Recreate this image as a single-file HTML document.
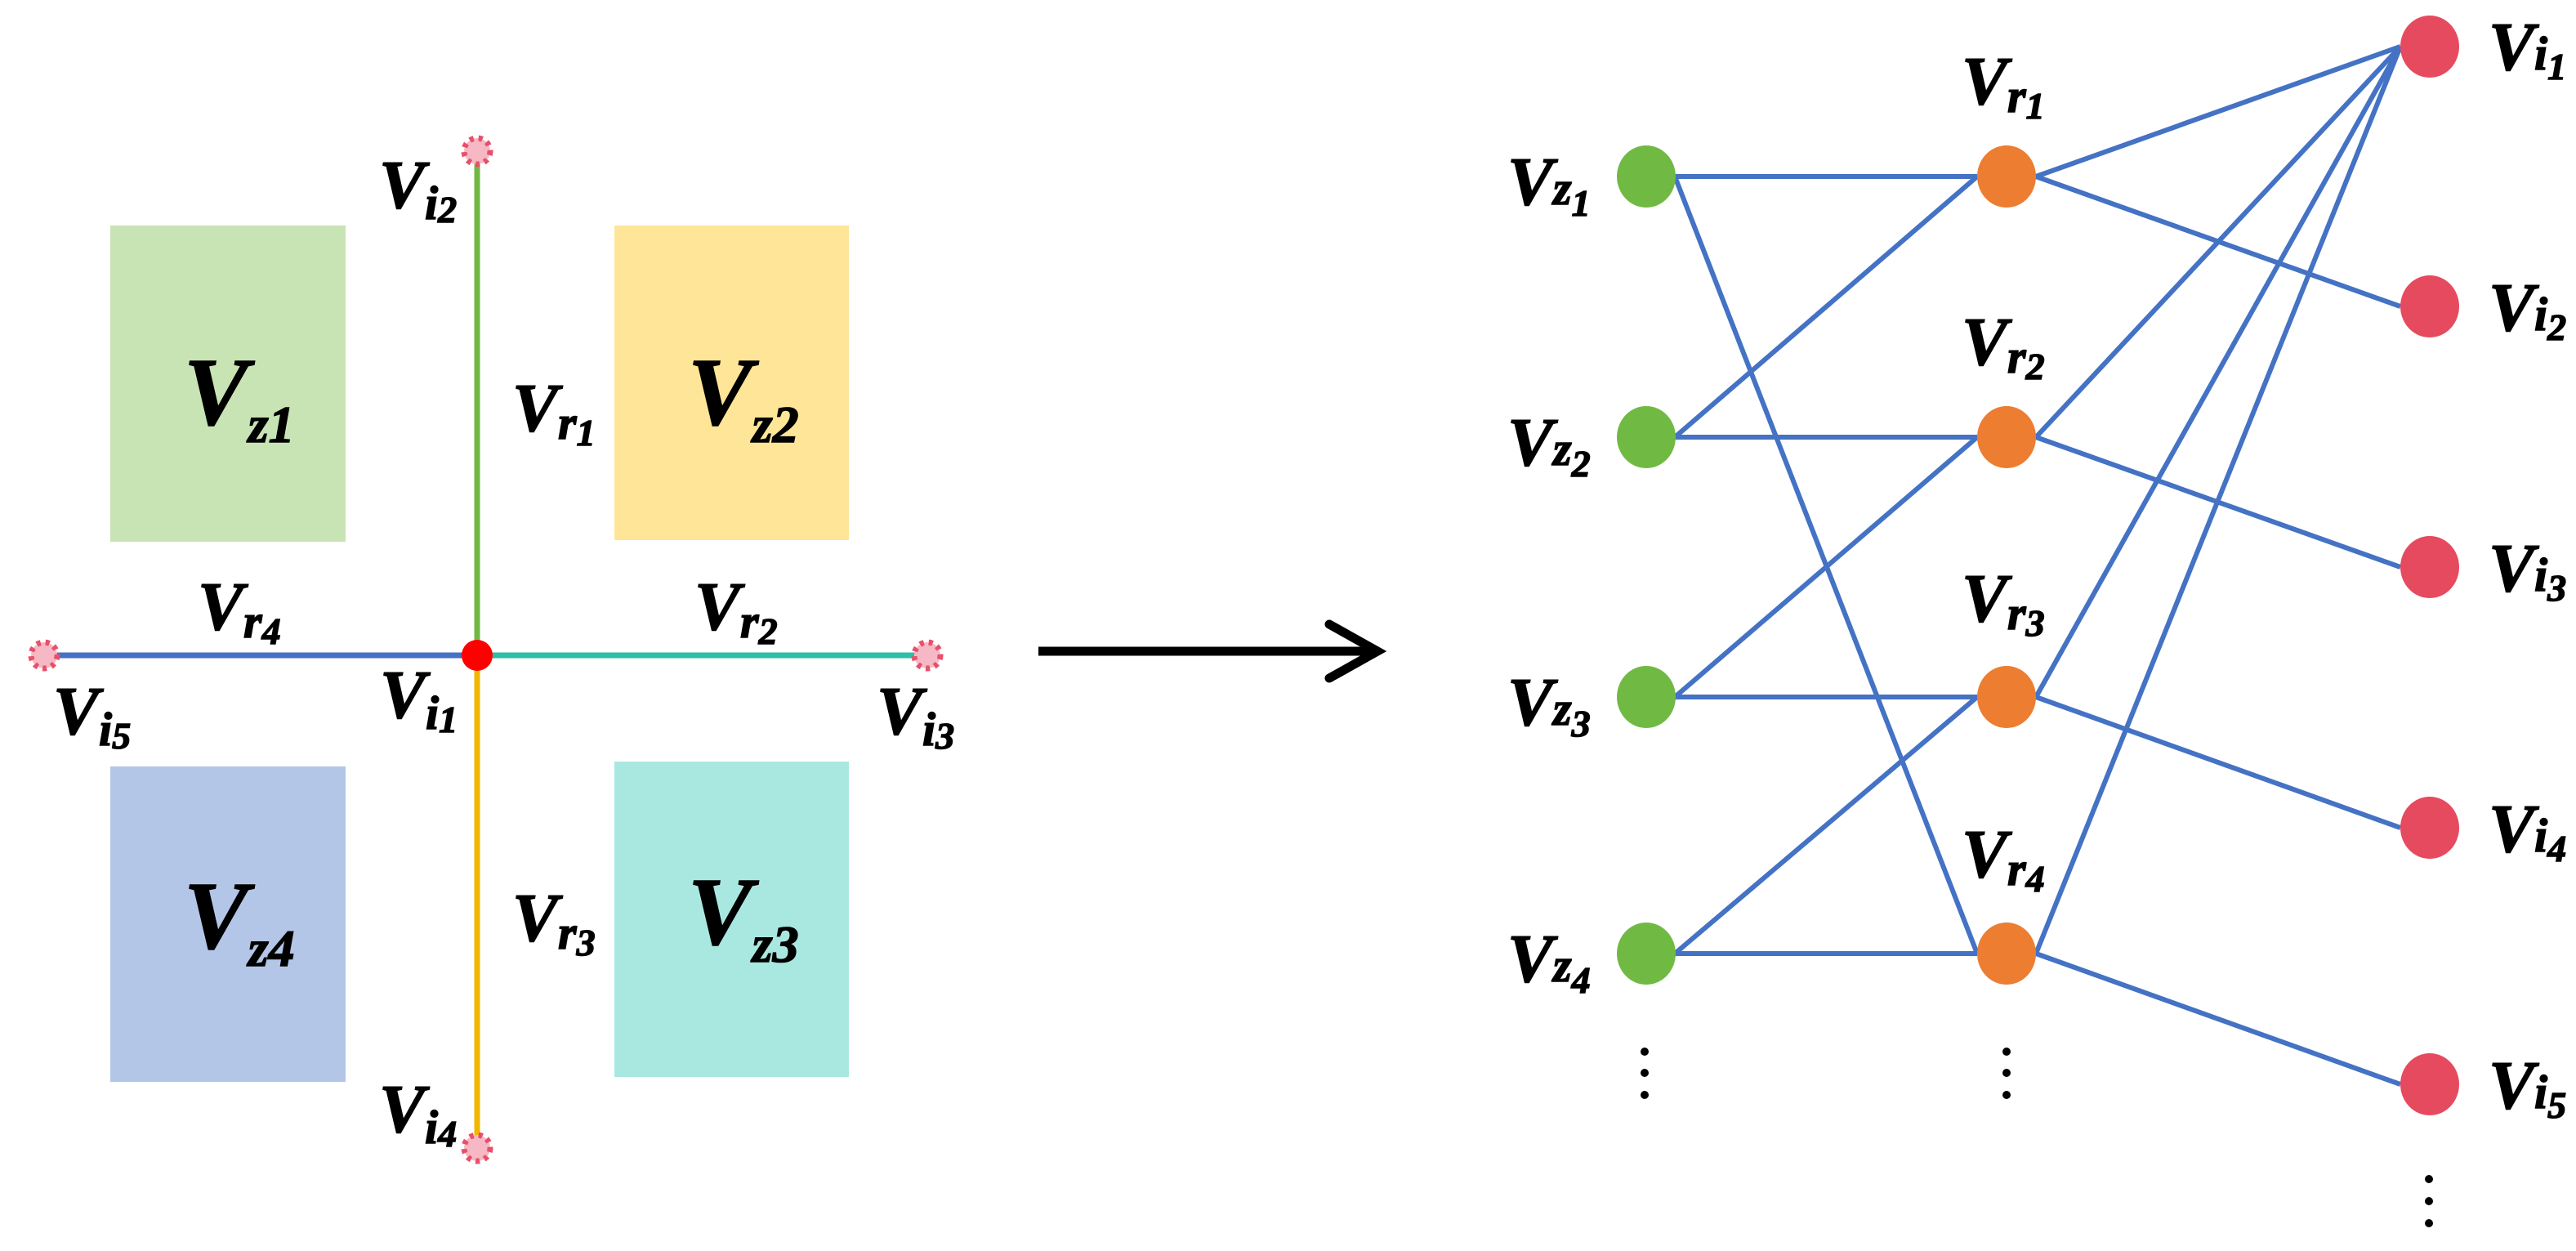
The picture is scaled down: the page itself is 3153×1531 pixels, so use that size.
<!DOCTYPE html>
<html><head><meta charset="utf-8"><style>
html,body{margin:0;padding:0;background:#fff;}
svg{display:block;}
.t{font-family:"Liberation Serif","Times New Roman",Times,"DejaVu Serif",serif;font-weight:700;font-style:italic;}
</style></head><body>
<svg width="3153" height="1531" viewBox="0 0 3153 1531" xmlns="http://www.w3.org/2000/svg">
<rect x="135" y="276" width="288" height="387" fill="#C9E4B4"/>
<rect x="752" y="276" width="287" height="385" fill="#FFE597"/>
<rect x="135" y="938" width="288" height="386" fill="#B4C6E7"/>
<rect x="752" y="932" width="287" height="386" fill="#A9E8E1"/>
<line x1="584" y1="185" x2="584" y2="802" stroke="#70B843" stroke-width="7"/>
<line x1="584" y1="802" x2="584" y2="1405" stroke="#F2B600" stroke-width="7"/>
<line x1="54" y1="802" x2="584" y2="802" stroke="#4472C4" stroke-width="7"/>
<line x1="584" y1="802" x2="1135" y2="802" stroke="#2DBEA8" stroke-width="7"/>
<g fill="#F6B8C4" stroke="#E8506A" stroke-width="7" stroke-dasharray="5 6">
<circle cx="584" cy="185" r="16"/>
<circle cx="54" cy="802" r="16"/>
<circle cx="1135" cy="802" r="16"/>
<circle cx="584" cy="1405" r="16"/>
</g>
<circle cx="584" cy="802" r="19" fill="#FF0000"/>
<g class="t" font-family="Liberation Serif, serif" font-weight="bold" font-style="italic" fill="#000" stroke="#000" stroke-width="1.5">
<g font-size="84">
<text x="464" y="254">V<tspan font-size="58" dy="14">i</tspan><tspan font-size="46" dy="4">2</tspan></text>
<text x="627" y="527">V<tspan font-size="58" dy="10">r</tspan><tspan font-size="46" dy="8">1</tspan></text>
<text x="242" y="770">V<tspan font-size="58" dy="10">r</tspan><tspan font-size="46" dy="8">4</tspan></text>
<text x="850" y="770">V<tspan font-size="58" dy="10">r</tspan><tspan font-size="46" dy="8">2</tspan></text>
<text x="65" y="898">V<tspan font-size="58" dy="14">i</tspan><tspan font-size="46" dy="4">5</tspan></text>
<text x="465" y="878">V<tspan font-size="58" dy="14">i</tspan><tspan font-size="46" dy="4">1</tspan></text>
<text x="1073" y="898">V<tspan font-size="58" dy="14">i</tspan><tspan font-size="46" dy="4">3</tspan></text>
<text x="627" y="1151">V<tspan font-size="58" dy="10">r</tspan><tspan font-size="46" dy="8">3</tspan></text>
<text x="464" y="1385">V<tspan font-size="58" dy="14">i</tspan><tspan font-size="46" dy="4">4</tspan></text>
</g>
<g font-size="118">
<text x="225" y="519">V<tspan font-size="64" dy="22">z1</tspan></text>
<text x="842" y="519">V<tspan font-size="64" dy="22">z2</tspan></text>
<text x="225" y="1160">V<tspan font-size="64" dy="22">z4</tspan></text>
<text x="842" y="1155">V<tspan font-size="64" dy="22">z3</tspan></text>
</g>
<g font-size="84">
<text x="1845" y="250">V<tspan font-size="58" dy="0">z</tspan><tspan font-size="46" dy="14">1</tspan></text>
<text x="1845" y="569">V<tspan font-size="58" dy="0">z</tspan><tspan font-size="46" dy="14">2</tspan></text>
<text x="1845" y="887">V<tspan font-size="58" dy="0">z</tspan><tspan font-size="46" dy="14">3</tspan></text>
<text x="1845" y="1201">V<tspan font-size="58" dy="0">z</tspan><tspan font-size="46" dy="14">4</tspan></text>
<text x="2401" y="127">V<tspan font-size="58" dy="10">r</tspan><tspan font-size="46" dy="8">1</tspan></text>
<text x="2401" y="446">V<tspan font-size="58" dy="10">r</tspan><tspan font-size="46" dy="8">2</tspan></text>
<text x="2401" y="760">V<tspan font-size="58" dy="10">r</tspan><tspan font-size="46" dy="8">3</tspan></text>
<text x="2401" y="1073">V<tspan font-size="58" dy="10">r</tspan><tspan font-size="46" dy="8">4</tspan></text>
<text x="3046" y="85">V<tspan font-size="58" dy="0">i</tspan><tspan font-size="46" dy="12">1</tspan></text>
<text x="3046" y="404">V<tspan font-size="58" dy="0">i</tspan><tspan font-size="46" dy="12">2</tspan></text>
<text x="3046" y="723">V<tspan font-size="58" dy="0">i</tspan><tspan font-size="46" dy="12">3</tspan></text>
<text x="3046" y="1042">V<tspan font-size="58" dy="0">i</tspan><tspan font-size="46" dy="12">4</tspan></text>
<text x="3046" y="1356">V<tspan font-size="58" dy="0">i</tspan><tspan font-size="46" dy="12">5</tspan></text>
</g>
</g>
<line x1="1271" y1="797" x2="1684" y2="797" stroke="#000" stroke-width="11"/>
<polyline points="1627,764 1686,797 1627,830" fill="none" stroke="#000" stroke-width="11" stroke-linecap="round" stroke-linejoin="miter"/>
<g stroke="#4472C4" stroke-width="6" fill="none">
<line x1="2050" y1="216" x2="2420" y2="216"/>
<line x1="2050" y1="216" x2="2420" y2="1167"/>
<line x1="2050" y1="535" x2="2420" y2="216"/>
<line x1="2050" y1="535" x2="2420" y2="535"/>
<line x1="2050" y1="853" x2="2420" y2="535"/>
<line x1="2050" y1="853" x2="2420" y2="853"/>
<line x1="2050" y1="1167" x2="2420" y2="853"/>
<line x1="2050" y1="1167" x2="2420" y2="1167"/>
<line x1="2492" y1="216" x2="2938" y2="57"/>
<line x1="2492" y1="535" x2="2938" y2="57"/>
<line x1="2492" y1="853" x2="2938" y2="57"/>
<line x1="2492" y1="1167" x2="2938" y2="57"/>
<line x1="2492" y1="216" x2="2938" y2="375"/>
<line x1="2492" y1="535" x2="2938" y2="694"/>
<line x1="2492" y1="853" x2="2938" y2="1013"/>
<line x1="2492" y1="1167" x2="2938" y2="1327"/>
</g>
<g fill="#70BA44">
<ellipse cx="2015" cy="216" rx="36" ry="38"/>
<ellipse cx="2015" cy="535" rx="36" ry="38"/>
<ellipse cx="2015" cy="853" rx="36" ry="38"/>
<ellipse cx="2015" cy="1167" rx="36" ry="38"/>
</g>
<g fill="#ED7D31">
<ellipse cx="2456" cy="216" rx="36" ry="38"/>
<ellipse cx="2456" cy="535" rx="36" ry="38"/>
<ellipse cx="2456" cy="853" rx="36" ry="38"/>
<ellipse cx="2456" cy="1167" rx="36" ry="38"/>
</g>
<g fill="#E64A5E">
<ellipse cx="2974" cy="57" rx="36" ry="38"/>
<ellipse cx="2974" cy="375" rx="36" ry="38"/>
<ellipse cx="2974" cy="694" rx="36" ry="38"/>
<ellipse cx="2974" cy="1013" rx="36" ry="38"/>
<ellipse cx="2974" cy="1327" rx="36" ry="38"/>
</g>
<g fill="#000">
<circle cx="2013" cy="1287" r="5"/><circle cx="2013" cy="1313" r="5"/><circle cx="2013" cy="1340" r="5"/>
<circle cx="2456" cy="1287" r="5"/><circle cx="2456" cy="1313" r="5"/><circle cx="2456" cy="1340" r="5"/>
<circle cx="2973" cy="1443" r="5"/><circle cx="2973" cy="1470" r="5"/><circle cx="2973" cy="1497" r="5"/>
</g>
</svg>
</body></html>
